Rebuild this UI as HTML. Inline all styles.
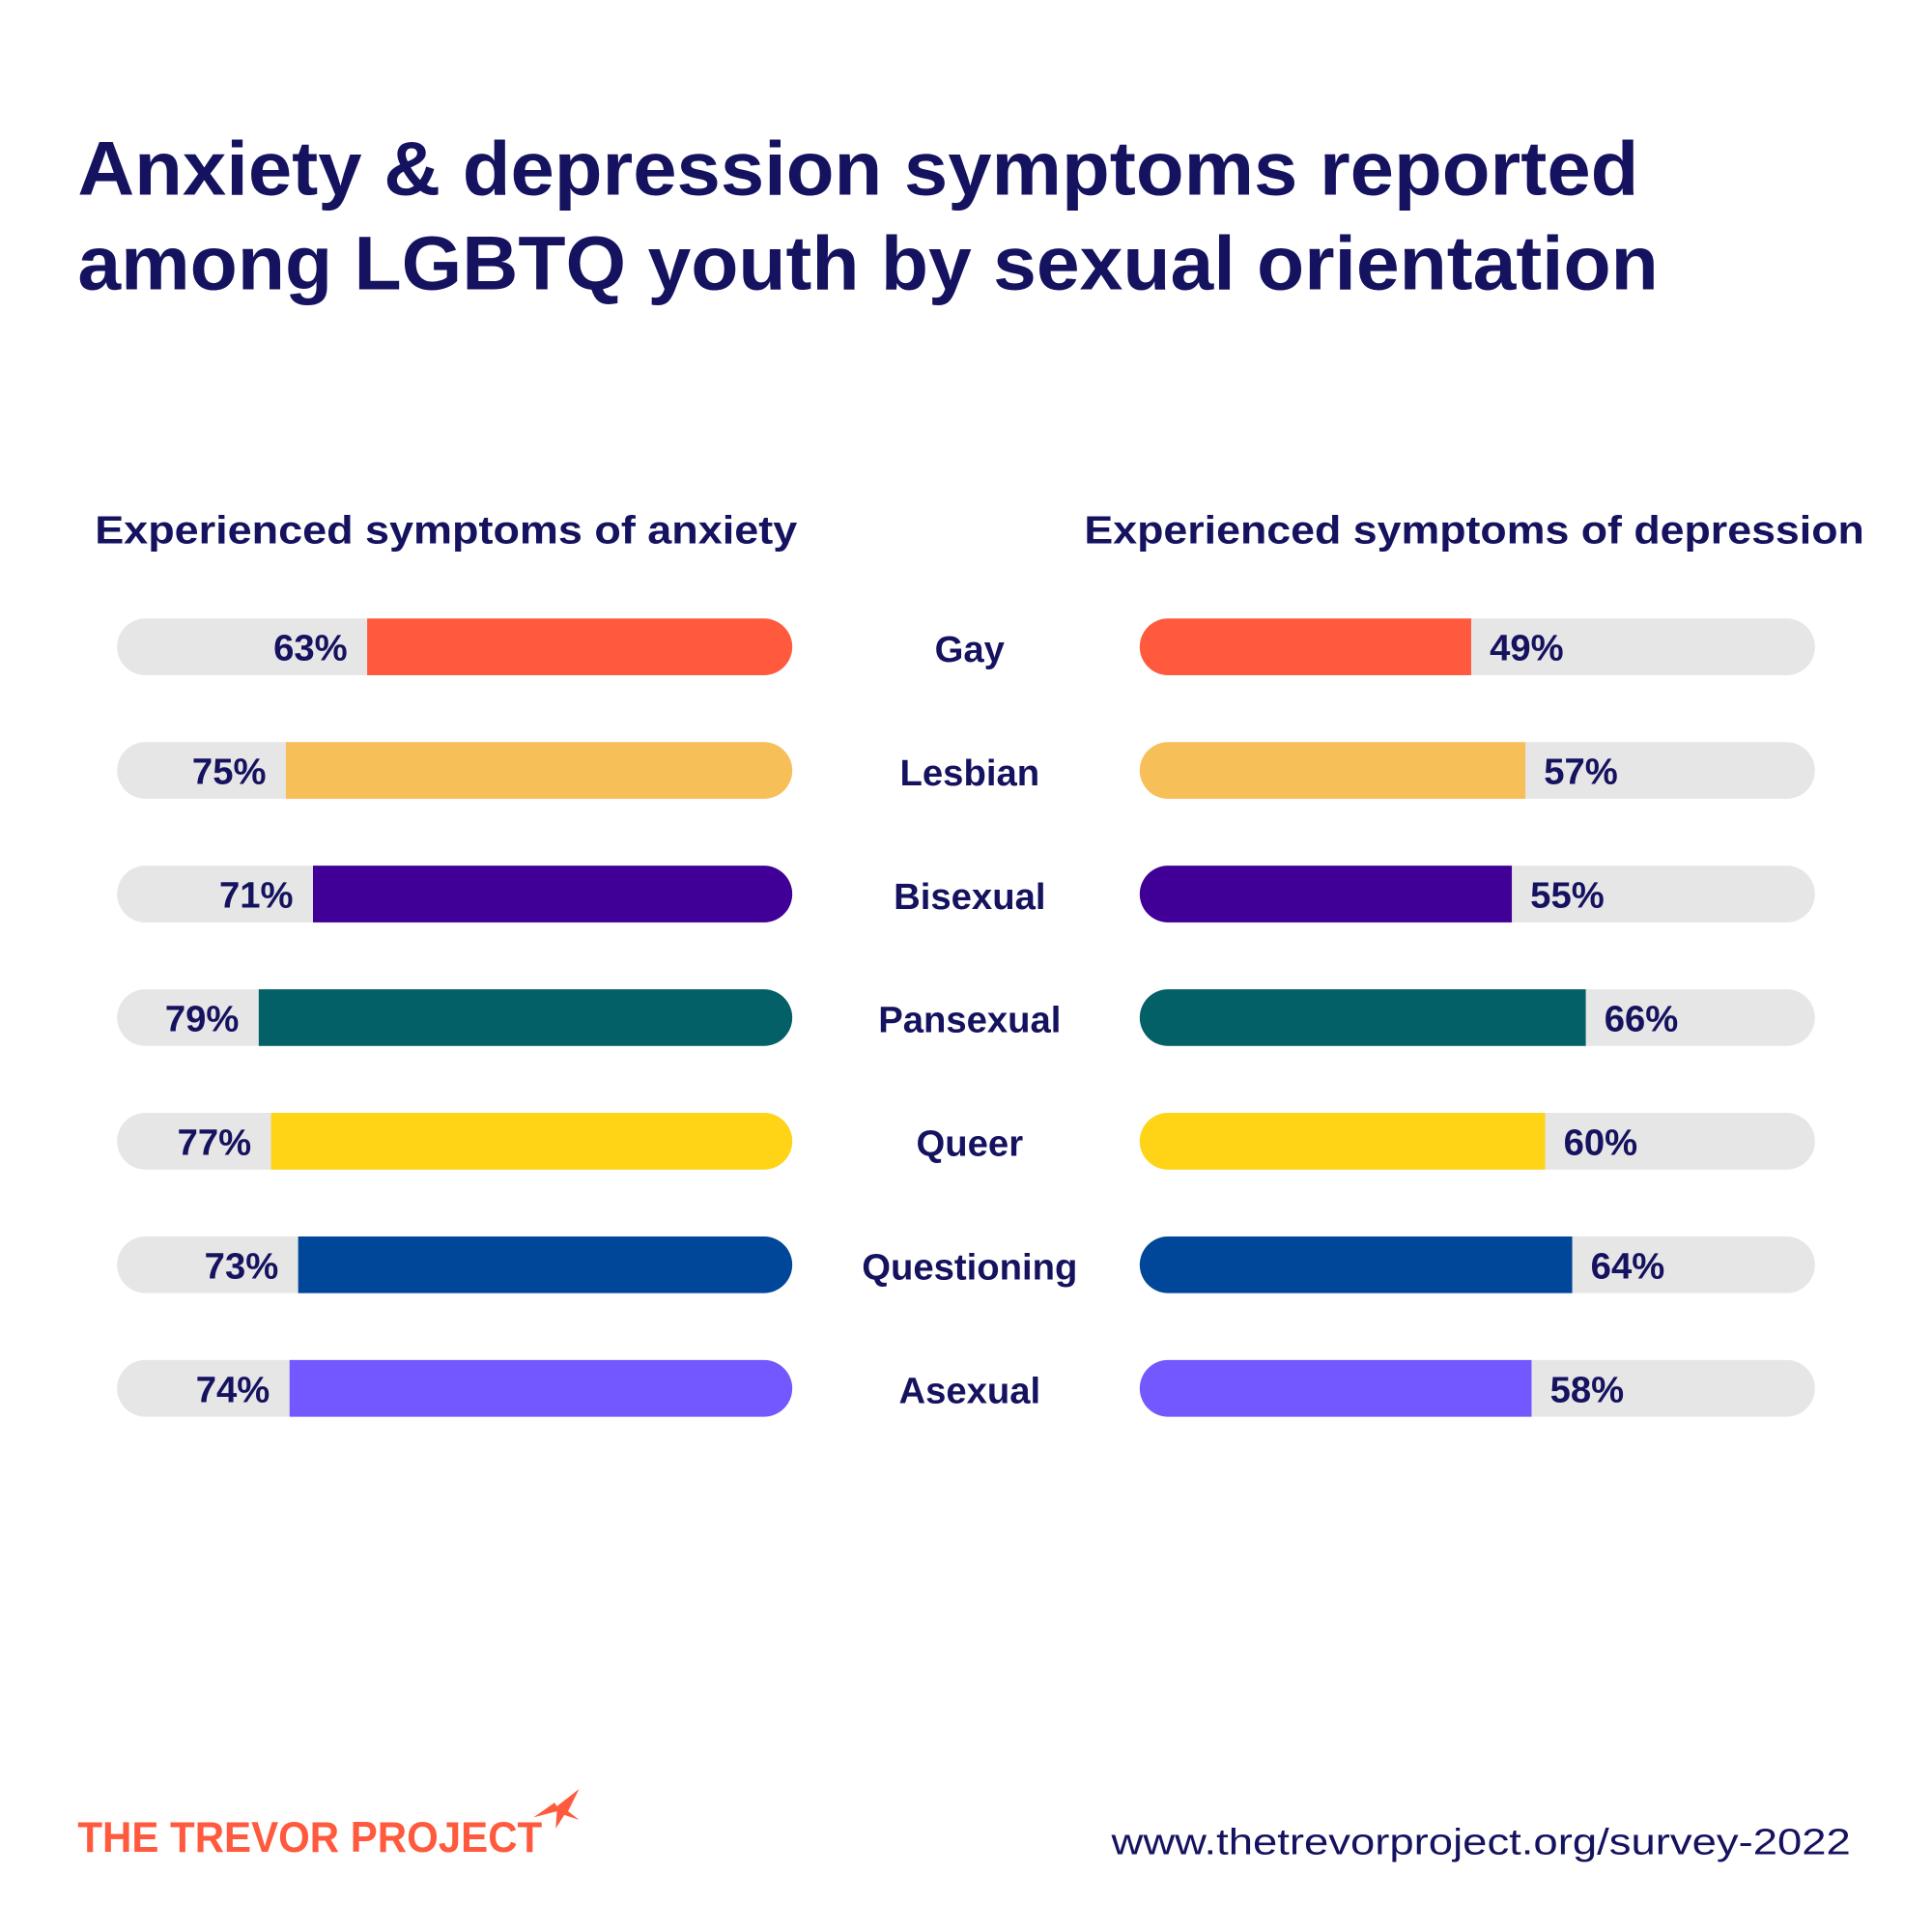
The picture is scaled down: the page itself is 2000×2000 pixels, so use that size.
<!DOCTYPE html>
<html><head><style>html,body{margin:0;padding:0;background:#fff}svg{display:block}</style></head>
<body>
<svg width="2000" height="2000" viewBox="0 0 1568 1568" xmlns="http://www.w3.org/2000/svg" font-family="Liberation Sans, sans-serif">
<rect width="1568" height="1568" fill="#fff"/>
<g fill="#15125f" font-weight="bold">
<text x="63" y="158" font-size="62" textLength="1267" lengthAdjust="spacingAndGlyphs">Anxiety &amp; depression symptoms reported</text>
<text x="63" y="235" font-size="62" textLength="1283" lengthAdjust="spacingAndGlyphs">among LGBTQ youth by sexual orientation</text>
<text x="77" y="441" font-size="32" textLength="570" lengthAdjust="spacingAndGlyphs">Experienced symptoms of anxiety</text>
<text x="880" y="441" font-size="32" textLength="633" lengthAdjust="spacingAndGlyphs">Experienced symptoms of depression</text>
</g>
<g id="rows"></g>
<text x="63" y="1503" font-size="35" font-weight="bold" fill="#ff5a3d" textLength="377" lengthAdjust="spacingAndGlyphs">THE TREVOR PROJECT</text>
<path d="M440 1448 L452 1466 L470 1452 L461 1470 L470 1477 L458 1473 L451 1484 L452 1470 L433 1475 L450 1463 Z" fill="#ff5a3d"/>
<text x="1502" y="1505" font-size="30" fill="#15125f" text-anchor="end" textLength="600" lengthAdjust="spacingAndGlyphs">www.thetrevorproject.org/survey-2022</text>
</svg>
<script>
const rows=[["Gay","#ff5a3d",63,298,49,1194],["Lesbian","#f7bf58",75,232,57,1238],["Bisexual","#400097",71,254,55,1227],["Pansexual","#036066",79,210,66,1287],["Queer","#ffd316",77,220,60,1254],["Questioning","#004699",73,242,64,1276],["Asexual","#7357ff",74,235,58,1243]];
let s="";
rows.forEach((r,i)=>{const y=502+i*100.3;const h=46,rr=23;
s+=`<rect x="95" y="${y}" width="548" height="${h}" rx="${rr}" fill="#e6e6e6"/>`;
s+=`<path d="M${r[3]} ${y} H${643-rr} A${rr} ${rr} 0 0 1 ${643-rr} ${y+h} H${r[3]} Z" fill="${r[1]}"/>`;
s+=`<text x="${r[3]-16}" y="${y+34}" font-size="30" font-weight="bold" fill="#15125f" text-anchor="end">${r[2]}%</text>`;
s+=`<rect x="925" y="${y}" width="548" height="${h}" rx="${rr}" fill="#e6e6e6"/>`;
s+=`<path d="M${r[5]} ${y} H${925+rr} A${rr} ${rr} 0 0 0 ${925+rr} ${y+h} H${r[5]} Z" fill="${r[1]}"/>`;
s+=`<text x="${r[5]+15}" y="${y+34}" font-size="30" font-weight="bold" fill="#15125f">${r[4]}%</text>`;
s+=`<text x="787" y="${y+35}" font-size="30" fill="#15125f" text-anchor="middle" font-weight="bold">${r[0]}</text>`;});
document.getElementById("rows").innerHTML=s;
</script>
</body></html>
